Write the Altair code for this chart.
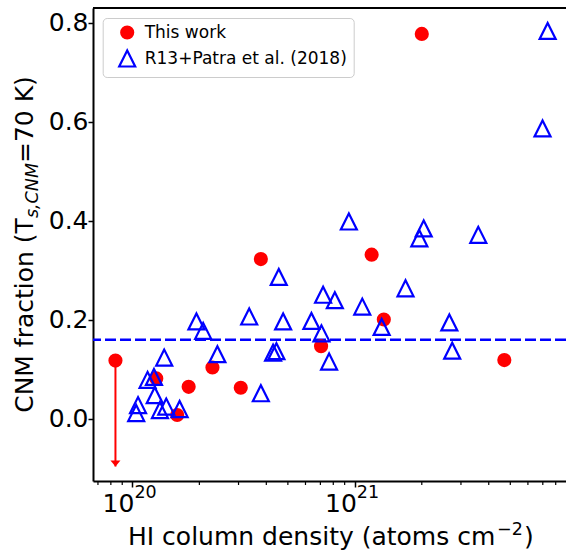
import altair as alt
import pandas as pd

# ---- data -------------------------------------------------------------
series_names = ["This work", "R13+Patra et al. (2018)"]

# This work: HI column density (cm^-2) and CNM fraction
this_work_n = [8.39e19, 1.28e20, 1.79e20, 1.59e20, 2.29e20, 3.07e20,
               3.78e20, 7.05e20, 1.19e21, 1.35e21, 2.00e21, 4.70e21]
this_work_f = [0.118, 0.082, 0.065, 0.008, 0.104, 0.063,
               0.323, 0.147, 0.332, 0.201, 0.778, 0.119]

# R13 + Patra et al. (2018)
r13_n = [1.04e20, 1.06e20, 1.17e20, 1.25e20, 1.26e20, 1.39e20, 1.33e20,
         1.42e20, 1.63e20, 1.94e20, 2.08e20, 2.41e20, 3.35e20, 3.78e20,
         4.29e20, 4.44e20, 4.55e20, 4.76e20, 6.38e20, 7.08e20, 7.20e20,
         7.66e20, 8.13e20, 9.40e20, 1.08e21, 1.32e21, 1.69e21, 1.95e21,
         2.04e21, 2.66e21, 2.74e21, 3.59e21, 6.98e21, 7.36e21]
r13_f = [0.012, 0.028, 0.079, 0.085, 0.048, 0.124, 0.018,
         0.025, 0.020, 0.197, 0.178, 0.131, 0.207, 0.052,
         0.134, 0.137, 0.287, 0.197, 0.198, 0.173, 0.251,
         0.116, 0.240, 0.399, 0.227, 0.186, 0.264, 0.365,
         0.385, 0.195, 0.138, 0.372, 0.587, 0.784]

# upper limit on the lowest-column sightline
limit_n = [8.39e19]
limit_top = [0.118]
limit_tip = [-0.096]

# mean CNM fraction
cnm_mean = [0.16]

# axis ticks
major_ticks = [1e20, 1e21]
major_base = ["10", "10"]
major_exp = ["20", "21"]
minor_ticks = [7e19, 8e19, 9e19, 2e20, 3e20, 4e20, 5e20, 6e20, 7e20, 8e20,
               9e20, 2e21, 3e21, 4e21, 5e21, 6e21, 7e21, 8e21]
y_ticks = [0.0, 0.2, 0.4, 0.6, 0.8]

# ---- tables -------------------------------------------------------------
points_df = pd.DataFrame(
    [{"N": n, "f": f, "series": series_names[0]} for n, f in zip(this_work_n, this_work_f)]
    + [{"N": n, "f": f, "series": series_names[1]} for n, f in zip(r13_n, r13_f)]
)
limit_df = pd.DataFrame({"N": limit_n, "f": limit_top, "f2": limit_tip})
mean_df = pd.DataFrame({"f": cnm_mean})
major_df = pd.DataFrame({"N": major_ticks, "base": major_base, "exp": major_exp})
minor_df = pd.DataFrame({"N": minor_ticks})
one_row = pd.DataFrame({"d": [0]})

# ---- layout / style ------------------------------------------------------
W, H = 473, 473
FONT = "DejaVu Sans"
RED, BLUE = "#ff0000", "#0000ff"
TRI = "M0,-1L-1,1L1,1Z"

x_scale = alt.Scale(type="log", domain=[6.65e19, 8.9e21], nice=False)
y_scale = alt.Scale(domain=[-0.1253, 0.8303], nice=False, zero=False)

x_axis = alt.Axis(values=major_ticks, labels=False, tickSize=6, tickWidth=1.5,
                  domainWidth=2, grid=False, title=None)
y_axis = alt.Axis(values=y_ticks, format=".1f", tickSize=5, tickWidth=1.5,
                  domainWidth=2, grid=False, title=None,
                  labelFont=FONT, labelFontSize=25, labelColor="black",
                  labelPadding=0)

X = alt.X("N:Q", scale=x_scale, axis=x_axis)

mean_line = alt.Chart(mean_df).mark_rule(
    color=BLUE, strokeWidth=2.4, strokeDash=[11, 4]
).encode(y=alt.Y("f:Q", scale=y_scale, axis=y_axis))

limit_line = alt.Chart(limit_df).mark_rule(color=RED, strokeWidth=2).encode(
    x=X, y=alt.Y("f:Q", scale=y_scale, axis=y_axis), y2="f2:Q"
)
limit_head = alt.Chart(limit_df).mark_point(
    shape="M-1,-1.2L1,-1.2L0,0Z", filled=True, color=RED, size=100, opacity=1
).encode(x=X, y=alt.Y("f2:Q", scale=y_scale, axis=y_axis))

legend = alt.Legend(title=None)
points = alt.Chart(points_df).mark_point(strokeWidth=2.2, opacity=1).encode(
    x=X,
    y=alt.Y("f:Q", scale=y_scale, axis=y_axis),
    shape=alt.Shape("series:N", scale=alt.Scale(domain=series_names, range=["circle", TRI]), legend=legend),
    fill=alt.Fill("series:N", scale=alt.Scale(domain=series_names, range=[RED, "transparent"]), legend=legend),
    stroke=alt.Stroke("series:N", scale=alt.Scale(domain=series_names, range=[RED, BLUE]), legend=legend),
    size=alt.Size("series:N", scale=alt.Scale(domain=series_names, range=[143, 256]), legend=legend),
)

minor = alt.Chart(minor_df).mark_rule(color="black", strokeWidth=1.2).encode(
    x=X, y=alt.value(H), y2=alt.value(H + 4)
)

tick_base = alt.Chart(major_df).mark_text(
    align="right", baseline="alphabetic", dx=2, font=FONT, fontSize=25, color="black"
).encode(x=X, y=alt.value(H + 31), text="base:N")
tick_exp = alt.Chart(major_df).mark_text(
    align="left", baseline="alphabetic", dx=2, font=FONT, fontSize=17.5, color="black"
).encode(x=X, y=alt.value(H + 17), text="exp:N")


def label_piece(text, x, y, size=25, angle=0, style="normal"):
    return alt.Chart(one_row).mark_text(
        angle=angle, align="left", baseline="alphabetic", font=FONT,
        fontSize=size, fontStyle=style, color="black", text=text
    ).encode(x=alt.value(x), y=alt.value(y))


# x title: HI column density (atoms cm^{-2})
xtitle = [
    label_piece("HI column density (atoms cm", 35, H + 64),
    label_piece("\u22122", 404, H + 54, size=17.5),
    label_piece(")", 431, H + 64),
]
# y title: CNM fraction (T_{s,CNM}=70 K)
ytitle = [
    label_piece("CNM fraction (T", -60, 404.8, angle=270),
    label_piece("s,CNM", -55, 210.1, size=17.5, angle=270, style="italic"),
    label_piece("=70 K)", -60, 155.0, angle=270),
]

top_spine = alt.Chart(one_row).mark_rule(color="black", strokeWidth=2).encode(
    x=alt.value(0), x2=alt.value(W), y=alt.value(0)
)

chart = alt.layer(
    mean_line, limit_line, limit_head, points, minor, tick_base, tick_exp,
    *xtitle, *ytitle, top_spine
).properties(
    width=W, height=H,
    autosize=alt.AutoSizeParams(type="none"),
    padding={"left": 93, "top": 8, "right": 0, "bottom": 73},
).configure(font=FONT).configure_view(stroke=None).configure_axis(
    domainColor="black", tickColor="black"
).configure_legend(
    orient="none", legendX=9.7, legendY=10, padding=6, symbolOffset=9,
    labelOffset=8, rowPadding=3, labelFont=FONT, labelFontSize=17,
    labelColor="black", labelLimit=400, strokeColor="#cccccc",
    fillColor="rgba(255,255,255,0.8)", cornerRadius=4, symbolStrokeWidth=2.2,
)

chart.save("out.html", embed_options={"renderer": "svg", "actions": False})
